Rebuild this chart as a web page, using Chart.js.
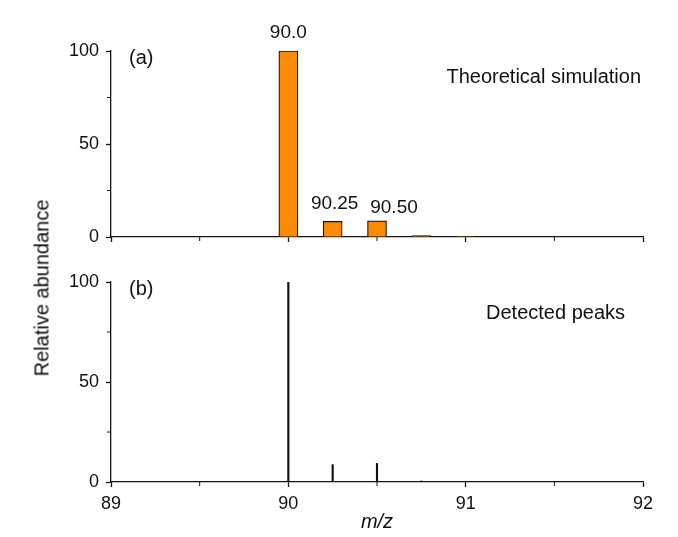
<!DOCTYPE html>
<html>
<head>
<meta charset="utf-8">
<title>m/z spectrum</title>
<script src="https://cdn.jsdelivr.net/npm/chart.js@4.4.1/dist/chart.umd.min.js"></script>
<style>
    body { margin: 0; background: #fff; }
    #wrap { position: relative; width: 678px; height: 537px; background: #fff; }
    .panel { position: absolute; left: 0; width: 678px; }
    #topPanel { top: 0; height: 260px; }
    #bottomPanel { top: 260px; height: 277px; }
    #yTitle {
        position: absolute; left: 42px; top: 288px;
        transform: translate(-50%, -50%) rotate(-90deg);
        font: 20px Arial, "Liberation Sans", sans-serif;
        color: #0d0d0d; white-space: nowrap;
    }
</style>
</head>
<body>
<div id="wrap">
    <div class="panel" id="topPanel"><canvas id="theoryChart" width="678" height="260"></canvas></div>
    <div class="panel" id="bottomPanel"><canvas id="detectedChart" width="678" height="277"></canvas></div>
    <div id="yTitle">Relative abundance</div>
</div>

<script>
// Spectrum data
const theoryMz = [90.0, 90.25, 90.5, 90.75, 91.0];
const theoryAbundance = [100, 8.4, 8.7, 0.8, 0.3];
const peakLabels = ['90.0', '90.25', '90.50'];

const detectedMz = [90.0, 90.25, 90.5, 90.75];
const detectedAbundance = [100, 8.7, 9.3, 0.5];

const xTicks = [89, 90, 91, 92];
const yTicks = [0, 50, 100];

const AXIS_COLOR = '#151515';
const TEXT_COLOR = '#111';
const FONT = 'Arial, "Liberation Sans", sans-serif';

Chart.defaults.font.family = FONT;
Chart.defaults.color = TEXT_COLOR;

function toPoints(xs, ys) {
    return xs.map((x, i) => ({ x: x, y: ys[i] }));
}

// short ticks halfway between the major ticks
const minorTicks = {
    id: 'minorTicks',
    afterDraw(chart) {
        const ctx = chart.ctx;
        const x = chart.scales.x, y = chart.scales.y;
        ctx.save();
        ctx.strokeStyle = AXIS_COLOR;
        ctx.lineWidth = 1;
        for (let i = 0; i < x.ticks.length - 1; i++) {
            const px = x.getPixelForValue((x.ticks[i].value + x.ticks[i + 1].value) / 2);
            ctx.beginPath();
            ctx.moveTo(px, x.top);
            ctx.lineTo(px, x.top + 4);
            ctx.stroke();
        }
        for (let i = 0; i < y.ticks.length - 1; i++) {
            const py = y.getPixelForValue((y.ticks[i].value + y.ticks[i + 1].value) / 2);
            ctx.beginPath();
            ctx.moveTo(y.right, py);
            ctx.lineTo(y.right - 4, py);
            ctx.stroke();
        }
        ctx.restore();
    }
};

// panel captions, placed relative to the plot area
const captions = {
    id: 'captions',
    afterDraw(chart, args, opts) {
        const ctx = chart.ctx;
        const area = chart.chartArea;
        ctx.save();
        ctx.fillStyle = TEXT_COLOR;
        ctx.font = '20px ' + FONT;
        ctx.textBaseline = 'middle';
        ctx.textAlign = 'left';
        ctx.fillText(opts.tag, area.left + 18, area.top + 7);
        ctx.textAlign = 'right';
        ctx.fillText(opts.text, area.right - opts.textInset, area.top + opts.textDrop);
        ctx.restore();
    }
};

// m/z labels above the first peaks
const peakText = {
    id: 'peakText',
    afterDatasetsDraw(chart, args, opts) {
        if (!opts.labels) return;
        const ctx = chart.ctx;
        const meta = chart.getDatasetMeta(0);
        ctx.save();
        ctx.fillStyle = TEXT_COLOR;
        ctx.font = '19px ' + FONT;
        ctx.textAlign = 'center';
        ctx.textBaseline = 'middle';
        opts.labels.forEach((txt, i) => {
            const bar = meta.data[i];
            ctx.fillText(txt, bar.x + opts.dx[i], bar.y + opts.dy[i]);
        });
        ctx.restore();
    }
};

function axes(showXLabels, xHeight) {
    return {
        x: {
            type: 'linear',
            min: 89,
            max: 92,
            offset: false,
            afterBuildTicks: s => { s.ticks = xTicks.map(v => ({ value: v })); },
            afterFit: s => { s.height = xHeight; },
            border: { display: true, color: AXIS_COLOR, width: 1.3 },
            grid: { display: true, offset: false, drawOnChartArea: false, tickLength: 5, tickColor: AXIS_COLOR, tickWidth: 1.3 },
            ticks: { display: showXLabels, padding: 6, font: { size: 18 }, color: TEXT_COLOR, maxRotation: 0 },
            title: {
                display: showXLabels,
                text: 'm/z',
                font: { size: 20, style: 'italic' },
                color: TEXT_COLOR,
                padding: { top: 0, bottom: 3 }
            }
        },
        y: {
            min: 0,
            max: 100,
            afterBuildTicks: s => { s.ticks = yTicks.map(v => ({ value: v })); },
            afterFit: s => { s.width = 111; },
            border: { display: true, color: AXIS_COLOR, width: 1.3 },
            grid: { display: true, drawOnChartArea: false, tickLength: 5, tickColor: AXIS_COLOR, tickWidth: 1.3 },
            ticks: { padding: 7, font: { size: 18 }, color: TEXT_COLOR }
        }
    };
}

// (a) theoretical isotope pattern
new Chart(document.getElementById('theoryChart'), {
    type: 'bar',
    data: {
        datasets: [{
            data: toPoints(theoryMz, theoryAbundance),
            backgroundColor: '#ff8c00',
            borderColor: '#111',
            borderWidth: 1.2,
            barThickness: 19
        }]
    },
    options: {
        responsive: false,
        animation: false,
        layout: { padding: { top: 51, right: 35, left: 0, bottom: 0 } },
        plugins: {
            legend: { display: false },
            tooltip: { enabled: false },
            captions: { tag: '(a)', text: 'Theoretical simulation', textInset: 2, textDrop: 26 },
            peakText: { labels: peakLabels, dx: [0, 2, 17], dy: [-18, -18, -13] }
        },
        scales: axes(false, 23)
    },
    plugins: [minorTicks, captions, peakText]
});

// (b) peaks found in the measured spectrum
new Chart(document.getElementById('detectedChart'), {
    type: 'bar',
    data: {
        datasets: [{
            data: toPoints(detectedMz, detectedAbundance),
            backgroundColor: '#111',
            borderWidth: 0,
            barThickness: 1.5
        }]
    },
    options: {
        responsive: false,
        animation: false,
        layout: { padding: { top: 22, right: 35, left: 0, bottom: 0 } },
        plugins: {
            legend: { display: false },
            tooltip: { enabled: false },
            captions: { tag: '(b)', text: 'Detected peaks', textInset: 18, textDrop: 31 }
        },
        scales: axes(true, 55)
    },
    plugins: [minorTicks, captions]
});
</script>
</body>
</html>
